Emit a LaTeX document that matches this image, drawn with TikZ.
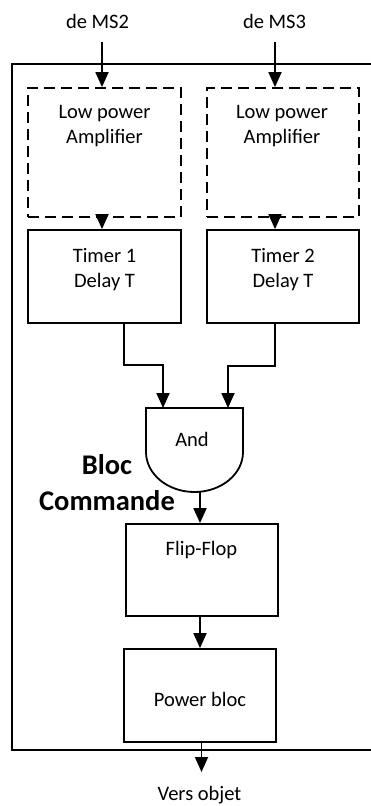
\documentclass[tikz,border=0pt]{standalone}
\usepackage{fontspec}
\setmainfont{Carlito}
\usetikzlibrary{arrows.meta}
\begin{document}
\begin{tikzpicture}[x=1pt,y=1pt,
  line width=1.8pt,
  arr/.style={-{Triangle[length=15pt,width=13pt]}},
  blk/.style={draw, inner sep=0pt, minimum width=153pt, minimum height=93pt},
  dashblk/.style={blk, dash pattern=on 11pt off 6pt, minimum height=129pt},
  txt/.style={font=\fontsize{20.5}{25}\selectfont, align=center, inner sep=0pt, anchor=base},
  bigtxt/.style={txt, font=\bfseries\fontsize{28.5}{36}\selectfont},
]
\useasboundingbox (0,0) rectangle (371,-806);

% enclosing frame of the control block
\begin{scope}
  \clip (0,0) rectangle (371,-806);
  \draw (12,-64) rectangle (390,-750);
\end{scope}

% blocks
\node[dashblk] (amp1) at (104.5,-152.5) {};
\node[dashblk, minimum width=152pt] (amp2) at (283,-152.5) {};
\node[blk] (tim1) at (104.5,-276.5) {};
\node[blk, minimum width=152pt] (tim2) at (283,-276.5) {};
\node[blk, minimum width=152pt, minimum height=92pt] (ff) at (202,-570) {};
\node[blk, minimum width=152pt] (pwr) at (200,-695.5) {};

% AND gate
\draw (146,-408) -- (146,-452)
  arc[start angle=180, end angle=360, x radius=48.5, y radius=40]
  -- (243,-408) -- cycle;

% texts (two-line texts are placed by the baseline of their last line)
\node[txt] (ms2) at (97.5,-28) {de MS2};
\node[txt] (ms3) at (274.5,-28) {de MS3};
\node[txt] (amp1t) at (104.5,-143) {Low power\\Amplifier};
\node[txt] (amp2t) at (282,-143) {Low power\\Amplifier};
\node[txt] (tim1t) at (104.5,-287) {Timer 1\\Delay T};
\node[txt] (tim2t) at (283,-287) {Timer 2\\Delay T};
\node[txt] (andt) at (192,-446) {And};
\node[bigtxt] (bloc) at (107,-510) {Bloc\\Commande};
\node[txt] (fft) at (201.5,-555) {Flip-Flop};
\node[txt] (pwrt) at (200,-706.5) {Power bloc};
\node[txt] (out) at (199.5,-800) {Vers objet};

% connector anchors
\coordinate (in1) at (102,-42);
\coordinate (in2) at (275,-42);
\coordinate (j1) at (124,-365);
\coordinate (j2) at (275,-366);
\coordinate (g1) at (163,-408);
\coordinate (g2) at (228,-408);
\coordinate (gout) at (200,-492);
\coordinate (exit) at (201.5,-772);

% connectors
\draw[arr] (in1) -- (in1 |- amp1.north);
\draw[arr] (in2) -- (in2 |- amp2.north);
\draw[arr] (amp1.south -| in1) -- (tim1.north -| in1);
\draw[arr] (amp2.south -| in2) -- (tim2.north -| in2);
\draw[arr] (tim1.south -| j1) -- (j1) -| (g1);
\draw[arr] (tim2.south -| j2) -- (j2) -| (g2);
\draw[arr] (gout) -- (gout |- ff.north);
\draw[arr] (ff.south -| gout) -- (pwr.north -| gout);
\draw[arr] (pwr.south -| exit) -- (exit);
\end{tikzpicture}
\end{document}
